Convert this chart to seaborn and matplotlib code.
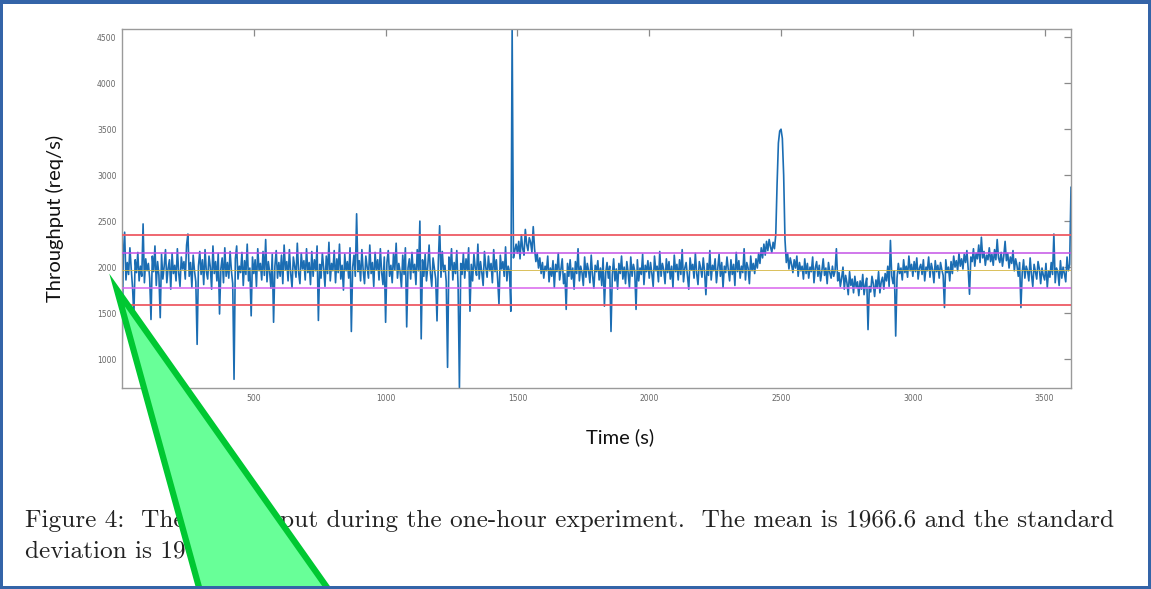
import numpy as np
import pandas as pd
import matplotlib
matplotlib.use("Agg")
import matplotlib.pyplot as plt
import seaborn as sns
from matplotlib.patches import Polygon, Rectangle

# ---------------- data ----------------
time_step_s = 5
throughput = [
    1000, 2150, 2380, 1860, 2050, 1920, 2210, 1980, 1780, 1470, 2080, 1940, 2160, 1850, 2010, 1900, 2470, 1830, 2090, 1960,
    2040, 1880, 1430, 2120, 1950, 2230, 1800, 2060, 1910, 1450, 2140, 1870, 2010, 2190, 1830, 1990, 2080, 1760, 2150, 1930,
    2020, 1850, 2200, 1940, 1790, 2110, 1980, 2060, 1870, 2240, 2360, 1900, 2050, 1780, 2130, 1960, 1840, 1160, 2010, 2170,
    1920, 2080, 1810, 2190, 1950, 1870, 2120, 2000, 1760, 2230, 1930, 2060, 1850, 2150, 1490, 1980, 2100, 1830, 2210, 1900,
    2050, 1880, 2170, 1960, 1820, 780, 2090, 2230, 1870, 2010, 1940, 2160, 1800, 2070, 1920, 2250, 1850, 1990, 1470, 2110,
    1930, 2080, 1790, 2200, 1960, 2040, 1860, 2170, 1910, 2300, 1840, 2060, 1950, 1770, 2140, 1400, 2010, 2180, 1880, 2050,
    1900, 2130, 1820, 2240, 1970, 2060, 1850, 2190, 1930, 1780, 2110, 2010, 1890, 2260, 1940, 1820, 2150, 1980, 2070, 1860,
    2200, 1940, 2050, 1810, 2170, 1900, 2080, 1960, 2230, 1420, 2030, 1880, 2150, 1990, 1790, 2120, 1930, 2270, 1850, 2040,
    1960, 2180, 1830, 2090, 1940, 2250, 1870, 2020, 1750, 2140, 1960, 2060, 1880, 2210, 1300, 2000, 2130, 1900, 2580, 1950,
    2070, 1850, 2190, 1960, 1820, 2120, 2000, 1880, 2240, 1930, 2050, 1790, 2160, 1970, 2080, 1860, 2200, 1940, 1810, 2110,
    1400, 2050, 2180, 1900, 2020, 1830, 2150, 1970, 2260, 1880, 2040, 1950, 1780, 2130, 1920, 2210, 1350, 1990, 2090, 1870,
    2160, 1940, 2030, 1810, 2190, 1960, 2500, 1220, 2080, 1900, 2140, 1850, 2010, 2240, 1930, 1790, 2100, 1980, 1870, 1415,
    2060, 2450, 1890, 2170, 1950, 2020, 1840, 910, 2110, 1970, 2200, 1860, 2050, 1930, 2180, 1800, 690, 2040, 1920, 2150,
    1880, 2090, 1960, 2210, 1520, 2030, 1850, 2140, 1990, 1910, 2250, 1870, 2060, 1940, 1800, 2170, 2000, 1890, 2120, 1960,
    2040, 1830, 2190, 1950, 2080, 1870, 1600, 2130, 1980, 2060, 1900, 2220, 1850, 2010, 1950, 1520, 4600, 2100, 2180, 2250,
    2150, 2280, 2090, 2350, 2200, 2130, 2410, 2250, 2180, 2320, 2270, 2160, 2440, 2200, 2060, 2150, 1990, 2100, 1930, 2050,
    1880, 2010, 1960, 2120, 1840, 1990, 1900, 2070, 1780, 2030, 1950, 2150, 1860, 1980, 2090, 1820, 1930, 1540, 2040, 1900,
    2080, 1870, 1990, 1760, 2060, 1930, 2200, 1850, 2010, 1940, 1800, 2110, 1890, 2040, 1960, 1830, 2130, 1910, 1770, 2020,
    1950, 2070, 1860, 1990, 1800, 2100, 1575, 1940, 2050, 1880, 2010, 1300, 1920, 2090, 1850, 1980, 1760, 2040, 1930, 2120,
    1870, 2000, 1820, 2060, 1940, 1780, 2110, 1900, 2030, 1960, 1540, 2080, 1850, 1990, 1920, 2140, 1810, 2020, 1950, 2070,
    1880, 2050, 1930, 1790, 2120, 1960, 2010, 1840, 2170, 1900, 2040, 1970, 1820, 2090, 1940, 2060, 1870, 2010, 1780, 2130,
    1950, 2030, 1860, 2080, 1920, 2190, 1840, 1990, 2050, 1900, 1760, 2100, 1970, 2030, 1880, 2150, 1930, 1810, 2060, 1990,
    1890, 2100, 1950, 1700, 2040, 1910, 2180, 1860, 2020, 1960, 2090, 1830, 1990, 2140, 1900, 2050, 1780, 2010, 1940, 2110,
    1970, 1850, 2080, 1920, 2030, 1800, 2160, 1950, 2070, 1880, 2010, 1940, 2200, 1860, 2050, 1990, 1820, 2120, 1960, 2040,
    1930, 2090, 1990, 2150, 2040, 2210, 2100, 2250, 2130, 2280, 2180, 2300, 2220, 2160, 2270, 2200, 2350, 2900, 3350, 3480,
    3500, 3400, 3000, 2300, 2050, 2150, 1980, 2100, 2030, 1940, 2080, 1990, 2120, 1900, 2050, 1960, 2010, 1870, 2090, 1930,
    2040, 1880, 2000, 1950, 2110, 1830, 1990, 2060, 1900, 2020, 1850, 1960, 2090, 1910, 1990, 1820, 2050, 1940, 1880, 2010,
    1900, 1960, 2200, 1850, 1940, 1790, 1880, 2000, 1760, 1910, 1830, 1700, 1950, 1800, 1870, 1720, 1900, 1780, 1840, 1690,
    1850, 1760, 1920, 1700, 1810, 1880, 1320, 1790, 1730, 1900, 1820, 1680, 1860, 1770, 1950, 1720, 1840, 1890, 1760, 1930,
    1850, 2010, 1790, 2290, 1900, 1820, 1960, 1250, 1880, 2040, 1930, 1990, 1860, 2080, 1940, 2010, 1890, 2120, 1960, 2030,
    1900, 2060, 1950, 2100, 1870, 1990, 2030, 1920, 2080, 1850, 2000, 1960, 2110, 1890, 2040, 1970, 1830, 2070, 1950, 2020,
    1880, 2050, 1970, 1910, 1560, 2080, 1940, 2000, 1850, 2060, 1930, 2120, 2000, 2070, 1960, 2150, 2010, 2090, 1980, 2140,
    2050, 2180, 1980, 1705, 2110, 2060, 2200, 2010, 2150, 2090, 2240, 2050, 2325, 2100, 2170, 2020, 2130, 2080, 2210, 2060,
    2140, 2020, 2190, 2080, 2300, 2100, 2050, 2160, 2010, 2120, 2280, 2070, 2150, 1990, 2110, 2040, 2180, 1960, 2090, 2020,
    1900, 2050, 1560, 1940, 2080, 1880, 2010, 1960, 1850, 2100, 1920, 1790, 2030, 1950, 1870, 2060, 1980, 1820, 1990, 1910,
    1860, 2040, 1780, 1960, 1890, 2050, 1920, 2360, 1830, 1990, 1950, 1800, 2070, 1880, 2000, 1930, 1840, 2110, 1960, 2030,
    2870,
]
mean_thr = 1966.6
std_thr = 190.0
x_ticks = [500, 1000, 1500, 2000, 2500, 3000, 3500]
y_ticks = [1000, 1500, 2000, 2500, 3000, 3500, 4000, 4500]
x_label = "Time (s)"
y_label = "Throughput (req/s)"
caption_1 = "Figure 4:  The throughput during the one-hour experiment.  The mean is 1966.6 and the standard"
caption_2 = "deviation is 190.3."

df = pd.DataFrame({"time": np.arange(len(throughput)) * time_step_s, "thr": throughput})

# ---------------- figure ----------------
sns.set_theme(style="white")
W, H = 1151, 589
fig = plt.figure(figsize=(W / 100, H / 100), dpi=100)
fig.patch.set_facecolor("white")


def fx(x):
    return x / W


def fy(y):
    return 1 - y / H


ax = fig.add_axes([fx(122), fy(388), (1071 - 122) / W, (388 - 29) / H])
ax.set_facecolor("white")

sns.lineplot(data=df, x="time", y="thr", ax=ax, color="#1b6db3", linewidth=1.2,
             sort=False, estimator=None, zorder=2)

for val, col, lw in [(mean_thr + 2 * std_thr, "#ee5a64", 1.3),
                     (mean_thr - 2 * std_thr, "#ee5a64", 1.3),
                     (mean_thr + std_thr, "#c452e6", 1.1),
                     (mean_thr - std_thr, "#d865ee", 1.1),
                     (mean_thr, "#d4b640", 0.6)]:
    ax.axhline(val, color=col, lw=lw, zorder=3)

ax.set_xlim(0, 3600)
ax.set_ylim(685, 4590)
ax.set_xticks(x_ticks)
ax.set_yticks(y_ticks)
ax.set_xticklabels([str(t) for t in x_ticks])
ax.set_yticklabels([str(t) for t in y_ticks])
ax.tick_params(direction="in", length=5, width=0.9, color="#8a8a8a",
               top=True, right=True, labelsize=5.5, labelcolor="#666666", pad=4)
for sp in ax.spines.values():
    sp.set_visible(True)
    sp.set_color("#9a9a9a")
    sp.set_linewidth(1.0)
ax.set_xlabel("")
ax.set_ylabel("")
ax.grid(False)

fig.text(fx(620), fy(437), x_label, ha="center", va="center",
         fontsize=14.5, family="Lato", color="#111111")
fig.text(fx(55), fy(218), y_label, ha="center", va="center", rotation=90,
         fontsize=14.5, family="Lato", color="#111111")

fig.text(fx(25), fy(527), caption_1, ha="left", va="baseline",
         fontsize=18.2, family="cmr10", color="#222222")
fig.text(fx(25), fy(558), caption_2, ha="left", va="baseline",
         fontsize=18.2, family="cmr10", color="#222222")

# green arrow overlay
arrow_pts = [(fx(117), fy(290)), (fx(208), fy(620)), (fx(350), fy(620))]
fig.patches.append(Polygon(arrow_pts, closed=True, transform=fig.transFigure,
                           facecolor="#68ff98", edgecolor="#00c832", linewidth=4.5,
                           joinstyle="miter", zorder=10))

# blue frame
for (x0, y0, w, h) in [(0, 0, W, 4), (0, 0, 3, H), (W - 3, 0, 3, H), (0, H - 3, W, 3)]:
    fig.patches.append(Rectangle((fx(x0), fy(y0 + h)), w / W, h / H, transform=fig.transFigure,
                                 facecolor="#3464a8", edgecolor="none", zorder=20))

fig.savefig("out.png", dpi=100)
